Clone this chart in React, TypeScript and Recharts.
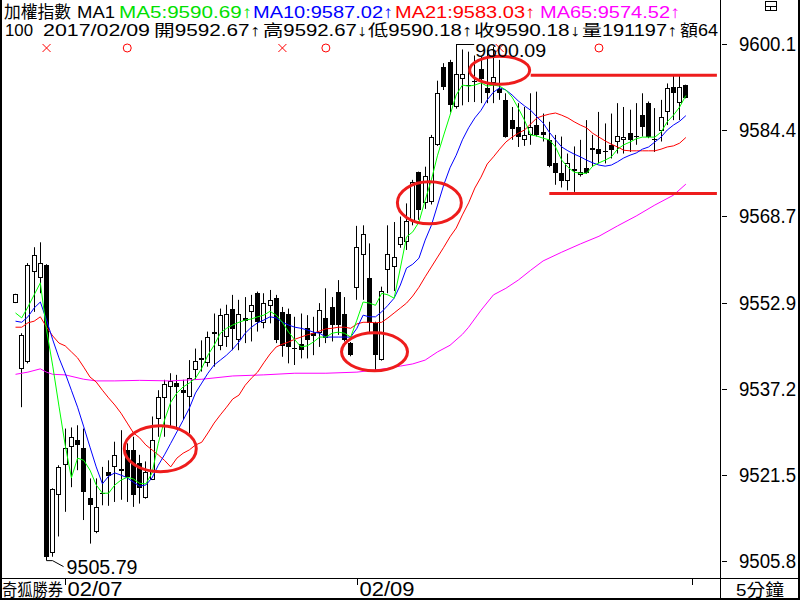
import React from 'react';
import { ComposedChart, Bar, Line, XAxis, YAxis, ReferenceLine, ReferenceDot } from 'recharts';

// 5-minute bars (open / high / low / close)
const opens = [
  9552.9, 9540.7, 9542.1, 9558.4, 9557.4, 9559.7, 9507.1, 9517.8, 9523.2, 9526.6,
  9527.9, 9526.3, 9517.2, 9511.1, 9518.2, 9521.9, 9522.8, 9522.5, 9526.0, 9526.0,
  9523.7, 9517.3, 9520.5, 9531.6, 9535.4, 9537.5, 9538.3, 9536.9, 9535.6, 9540.6,
  9542.7, 9541.8, 9547.1, 9544.9, 9546.7, 9551.8, 9546.1, 9550.1, 9551.2, 9554.6,
  9549.2, 9552.3, 9553.7, 9551.1, 9550.9, 9544.6, 9545.3, 9548.2, 9547.3, 9547.3,
  9550.0, 9552.1, 9554.9, 9550.9, 9545.6, 9555.5, 9561.6, 9557.3, 9549.1, 9542.5,
  9558.8, 9559.4, 9563.4, 9564.0, 9567.7, 9576.7, 9571.0, 9571.3, 9581.7, 9595.9,
  9596.9, 9588.6, 9593.8, 9592.7, 9593.3, 9595.5, 9592.0, 9592.9, 9591.8, 9589.9,
  9586.2, 9584.9, 9582.6, 9583.5, 9585.3, 9584.1, 9582.6, 9578.3, 9576.5, 9575.0,
  9577.2, 9576.1, 9577.4, 9581.2, 9581.0, 9580.5, 9581.6, 9582.3, 9582.6, 9583.8,
  9583.1, 9587.1, 9589.3, 9582.7, 9584.3, 9587.7, 9592.2, 9589.3, 9592.67,
];
const highs = [
  9554.5, 9547.3, 9560.1, 9563.0, 9563.9, 9559.9, 9519.0, 9523.2, 9529.9, 9530.1,
  9530.5, 9529.9, 9520.8, 9520.8, 9522.9, 9524.1, 9527.5, 9529.6, 9527.2, 9528.4,
  9525.1, 9523.9, 9532.1, 9536.9, 9538.8, 9540.0, 9539.7, 9538.8, 9542.4, 9544.5,
  9546.0, 9547.6, 9550.9, 9551.8, 9552.5, 9554.3, 9553.4, 9553.9, 9554.3, 9554.9,
  9554.6, 9555.2, 9554.3, 9552.1, 9551.8, 9550.3, 9550.9, 9550.6, 9550.3, 9552.8,
  9555.5, 9553.9, 9557.0, 9553.9, 9545.7, 9566.9, 9567.0, 9563.7, 9549.4, 9555.8,
  9567.0, 9567.6, 9568.6, 9571.0, 9575.3, 9576.8, 9577.7, 9583.5, 9593.4, 9596.6,
  9597.2, 9600.09, 9599.1, 9598.7, 9598.0, 9597.8, 9599.0, 9599.6, 9597.2, 9591.1,
  9588.6, 9589.3, 9588.6, 9591.1, 9591.4, 9587.4, 9585.9, 9583.5, 9583.2, 9580.1,
  9581.4, 9582.6, 9586.2, 9583.5, 9587.7, 9585.6, 9587.4, 9589.3, 9588.6, 9588.1,
  9589.3, 9591.1, 9589.6, 9588.4, 9589.9, 9592.9, 9594.4, 9594.4, 9592.67,
];
const lows = [
  9552.8, 9533.8, 9541.8, 9551.2, 9554.6, 9505.79, 9506.5, 9510.2, 9514.7, 9519.2,
  9522.3, 9513.2, 9508.9, 9510.8, 9515.9, 9515.8, 9516.5, 9516.9, 9516.5, 9515.6,
  9516.2, 9517.1, 9520.5, 9528.4, 9528.4, 9530.2, 9530.2, 9531.5, 9529.0, 9538.8,
  9540.3, 9541.2, 9541.2, 9544.2, 9544.8, 9544.2, 9544.2, 9545.5, 9545.8, 9547.6,
  9548.2, 9549.1, 9545.5, 9543.0, 9541.8, 9541.5, 9542.7, 9542.7, 9543.3, 9544.8,
  9545.5, 9545.8, 9547.0, 9545.8, 9543.1, 9553.4, 9553.4, 9547.5, 9540.3, 9542.3,
  9554.6, 9555.0, 9562.9, 9562.5, 9567.0, 9568.0, 9570.0, 9570.8, 9581.5, 9591.7,
  9587.6, 9588.3, 9588.9, 9589.5, 9589.5, 9589.3, 9589.3, 9589.3, 9589.9, 9583.0,
  9582.6, 9581.3, 9581.5, 9581.7, 9583.2, 9582.3, 9577.6, 9574.4, 9573.9, 9573.4,
  9573.1, 9575.9, 9576.4, 9577.7, 9578.3, 9578.3, 9579.2, 9580.1, 9580.1, 9580.4,
  9581.7, 9583.2, 9582.9, 9580.4, 9582.3, 9585.3, 9586.2, 9586.2, 9590.18,
];
const closes = [
  9554.4, 9547.0, 9559.7, 9561.6, 9560.2, 9506.5, 9518.8, 9522.9, 9526.3, 9528.3,
  9526.9, 9518.4, 9516.0, 9515.6, 9518.0, 9521.3, 9525.1, 9522.2, 9521.1, 9517.8,
  9519.0, 9522.0, 9527.9, 9535.6, 9538.0, 9538.6, 9537.4, 9536.3, 9539.2, 9542.2,
  9542.5, 9546.6, 9547.6, 9550.6, 9550.8, 9548.0, 9550.9, 9549.6, 9552.5, 9549.4,
  9552.9, 9553.4, 9546.1, 9544.9, 9544.8, 9544.4, 9544.2, 9546.1, 9546.8, 9551.5,
  9546.4, 9548.8, 9548.8, 9546.1, 9543.3, 9563.1, 9565.5, 9549.1, 9543.3, 9555.1,
  9561.8, 9561.3, 9564.9, 9567.7, 9574.9, 9569.8, 9576.0, 9583.2, 9591.1, 9592.3,
  9588.9, 9594.7, 9594.7, 9592.5, 9593.1, 9593.7, 9591.1, 9594.0, 9591.1, 9583.2,
  9584.5, 9583.2, 9583.5, 9585.0, 9583.5, 9583.5, 9577.8, 9576.5, 9575.0, 9578.3,
  9577.0, 9576.7, 9576.5, 9580.7, 9580.1, 9580.3, 9580.7, 9583.3, 9583.1, 9582.6,
  9583.3, 9585.0, 9583.2, 9582.5, 9586.7, 9592.0, 9591.1, 9592.3, 9590.18,
];

// moving averages as drawn
const ma5 = [
  9551.0, 9550.1, 9552.1, 9554.3, 9556.5, 9547.9, 9541.3, 9534.0, 9526.9, 9520.9,
  9524.5, 9524.1, 9522.3, 9519.6, 9518.1, 9518.1, 9519.6, 9520.5, 9521.0, 9520.7,
  9519.9, 9519.8, 9521.8, 9527.2, 9531.4, 9534.7, 9536.4, 9537.5, 9538.2, 9539.1,
  9540.9, 9543.3, 9545.1, 9547.3, 9548.2, 9548.8, 9549.3, 9549.7, 9549.9, 9550.3,
  9550.6, 9551.3, 9550.6, 9549.3, 9547.5, 9546.1, 9544.8, 9545.0, 9545.7, 9546.6,
  9546.6, 9547.3, 9547.5, 9547.3, 9546.6, 9549.7, 9553.0, 9552.8, 9552.4, 9554.6,
  9554.3, 9553.7, 9559.2, 9564.9, 9565.8, 9567.6, 9571.6, 9575.3, 9579.8, 9583.5,
  9587.1, 9590.8, 9592.6, 9592.4, 9592.6, 9593.0, 9592.4, 9592.6, 9592.4, 9591.7,
  9590.4, 9588.4, 9586.2, 9583.5, 9583.3, 9582.9, 9582.6, 9581.3, 9578.9, 9577.6,
  9576.7, 9576.5, 9576.5, 9577.8, 9578.4, 9578.9, 9579.5, 9580.9, 9581.7, 9582.2,
  9582.8, 9583.1, 9583.1, 9583.1, 9584.0, 9585.9, 9587.1, 9588.6, 9590.69,
];
const ma10 = [
  9549.5, 9549.3, 9550.3, 9551.9, 9553.0, 9549.7, 9546.1, 9542.8, 9540.0, 9536.9,
  9533.8, 9530.2, 9526.5, 9522.9, 9519.8, 9521.2, 9521.8, 9521.4, 9520.9, 9520.1,
  9519.4, 9519.6, 9520.9, 9523.2, 9525.1, 9527.2, 9529.3, 9531.4, 9533.6, 9536.4,
  9538.2, 9540.0, 9541.5, 9542.4, 9543.3, 9544.4, 9545.7, 9547.3, 9548.4, 9549.2,
  9549.7, 9550.3, 9550.1, 9549.3, 9548.8, 9548.4, 9548.2, 9547.9, 9547.5, 9547.3,
  9546.6, 9546.6, 9546.6, 9546.6, 9546.6, 9548.2, 9550.6, 9550.3, 9550.3, 9551.2,
  9552.4, 9553.7, 9556.1, 9559.2, 9559.9, 9561.0, 9564.3, 9567.0, 9570.7, 9574.4,
  9577.5, 9579.8, 9582.6, 9584.8, 9586.6, 9588.0, 9589.9, 9591.3, 9592.1, 9591.7,
  9590.8, 9589.7, 9588.8, 9588.0, 9586.8, 9585.7, 9584.0, 9582.6, 9581.3, 9580.6,
  9580.0, 9579.5, 9578.9, 9578.4, 9578.0, 9577.8, 9578.0, 9578.6, 9579.3, 9579.8,
  9580.2, 9580.9, 9581.3, 9582.2, 9583.1, 9584.4, 9585.3, 9586.0, 9587.02,
];
const ma21 = [
  9548.4, 9548.4, 9549.2, 9549.5, 9550.3, 9548.4, 9546.8, 9545.5, 9545.0, 9543.9,
  9542.8, 9541.1, 9539.3, 9538.4, 9536.9, 9535.5, 9534.2, 9532.7, 9530.9, 9529.1,
  9528.2, 9526.9, 9526.0, 9525.1, 9524.1, 9522.9, 9524.5, 9525.4, 9526.0, 9526.9,
  9527.4, 9529.1, 9530.9, 9532.4, 9533.8, 9535.3, 9536.0, 9537.8, 9539.1, 9540.2,
  9541.9, 9543.5, 9544.8, 9545.3, 9545.7, 9546.2, 9546.6, 9547.0, 9547.3, 9547.7,
  9548.1, 9548.2, 9548.4, 9548.4, 9548.2, 9549.0, 9549.3, 9549.3, 9549.2, 9549.3,
  9550.1, 9551.0, 9551.9, 9552.8, 9554.1, 9555.7, 9557.6, 9559.4, 9561.2, 9563.0,
  9564.9, 9566.5, 9568.9, 9571.1, 9573.8, 9575.8, 9578.2, 9579.5, 9580.9, 9582.2,
  9583.1, 9583.8, 9584.4, 9585.5, 9586.6, 9587.0, 9587.3, 9587.5, 9587.1, 9586.6,
  9585.9, 9585.3, 9584.8, 9583.8, 9583.1, 9582.4, 9581.8, 9581.3, 9580.7, 9580.6,
  9580.6, 9580.6, 9580.6, 9580.6, 9580.9, 9581.3, 9581.5, 9582.0, 9583.03,
];
// MA65 read at selected bars: [bar, value]
const ma65Read: [number, number][] = [
  [0, 9539.8], [2, 9540.2], [4, 9540.8], [5, 9540.2], [6, 9539.8], [8, 9539.7],
  [11, 9538.9], [13, 9538.6], [16, 9538.6], [20, 9538.7], [25, 9538.6], [30, 9538.9],
  [35, 9539.5], [40, 9539.7], [45, 9540.0], [50, 9540.0], [55, 9540.2], [58, 9540.6],
  [60, 9540.9], [62, 9541.3], [64, 9541.7], [66, 9542.4], [68, 9543.9], [70, 9545.1],
  [72, 9547.1], [73, 9548.4], [75, 9551.5], [77, 9554.3], [79, 9555.5], [81, 9557.0],
  [83, 9558.8], [85, 9560.5], [88, 9562.1], [91, 9563.6], [94, 9565.0], [97, 9566.9],
  [100, 9568.7], [103, 9570.7], [106, 9572.5], [108, 9574.52],
];

const yTicks = [9600.1, 9584.4, 9568.7, 9552.9, 9537.2, 9521.5, 9505.8];
const dayTicks: [number, string][] = [[8, '02/07'], [55, '02/09'], [109, '']];
const signals: [number, string][] = [[5, 'x'], [18, 'o'], [43, 'x'], [50, 'o'], [78, 'x'], [94, 'o']];
const rings = [
  { bar: 23, value: 9526.2, rx: 36, ry: 23, dx: 2 },
  { bar: 58, value: 9543.9, rx: 33, ry: 19, dx: -1 },
  { bar: 67, value: 9571.1, rx: 32, ry: 21, dx: -2 },
  { bar: 78, value: 9595.3, rx: 30, ry: 14, dx: 0 },
];
const levels = [
  { from: 83, value: 9594.4 },
  { from: 86, value: 9572.8 },
];

const PAD_L = 2;
const SLOTS = 116;
const FONT = "'Liberation Sans', 'Noto Sans CJK TC', sans-serif";
const key = (bar: number) => String(bar + PAD_L);

const ma65 = new Map(ma65Read);
const rows = Array.from({ length: SLOTS }, (_, s) => {
  const i = s - PAD_L;
  if (i < 0 || i >= opens.length) return { k: String(s) };
  return {
    k: String(s),
    range: [lows[i], highs[i]],
    o: opens[i], h: highs[i], l: lows[i], c: closes[i],
    ma5: ma5[i], ma10: ma10[i], ma21: ma21[i],
    ma65: ma65.has(i) ? ma65.get(i) : null,
  };
});
const dayLabel: Record<string, string> = {};
dayTicks.forEach(([b, t]) => { dayLabel[key(b)] = t; });

function Candle(props: any) {
  const { x, y, width, height, payload } = props;
  if (!payload || payload.o == null) return null;
  const mid = Math.floor(x + width / 2) + 0.5;
  const top = Math.min(y, y + height);
  const bottom = Math.max(y, y + height);
  const span = payload.h - payload.l;
  const toY = (v: number) => (span > 0 ? top + ((payload.h - v) / span) * (bottom - top) : top);
  const yo = toY(payload.o);
  const yc = toY(payload.c);
  const bTop = Math.round(Math.min(yo, yc));
  const bBot = Math.round(Math.max(yo, yc));
  if (bBot - bTop < 2) {
    return (
      <g>
        <line x1={mid} x2={mid} y1={top} y2={bottom} stroke="#000" />
        <line x1={mid - 2.5} x2={mid + 2.5} y1={bTop + 0.5} y2={bTop + 0.5} stroke="#000" />
      </g>
    );
  }
  if (payload.c > payload.o) {
    return (
      <g>
        <line x1={mid} x2={mid} y1={top} y2={bTop} stroke="#000" />
        <line x1={mid} x2={mid} y1={bBot} y2={bottom} stroke="#000" />
        <rect x={mid - 2} y={bTop + 0.5} width={4} height={bBot - bTop - 1} fill="#fff" stroke="#000" />
      </g>
    );
  }
  return (
    <g>
      <line x1={mid} x2={mid} y1={top} y2={bottom} stroke="#000" />
      <rect x={mid - 2.5} y={bTop} width={5} height={bBot - bTop} fill="#000" />
    </g>
  );
}

const YTick = (p: any) => {
  const yy = Math.round(p.y) + 0.5;
  return (
    <g>
      <line x1={722} x2={727} y1={yy} y2={yy} stroke="#000" />
      <text x={739} y={p.y + 7} fontSize={20} fontFamily={FONT} fill="#000" textLength={57} lengthAdjust="spacingAndGlyphs">
        {Number(p.payload.value).toFixed(1)}
      </text>
    </g>
  );
};

const DayTick = (p: any) => {
  const label = dayLabel[p.payload.value];
  const xx = Math.round(p.x) + 0.5;
  return (
    <g>
      <line x1={xx} x2={xx} y1={579} y2={585} stroke="#000" />
      {label ? (
        <text x={xx + 2} y={596} fontSize={20} fontFamily={FONT} fill="#000" textLength={55} lengthAdjust="spacingAndGlyphs">
          {label}
        </text>
      ) : null}
    </g>
  );
};

const header1 = [
  { t: '加權指數', x: 4, w: 67, c: '#000' },
  { t: 'MA1', x: 77, w: 38, c: '#000' },
  { t: 'MA5:9590.69↑', x: 119, w: 133, c: '#00e000' },
  { t: 'MA10:9587.02↑', x: 253, w: 140, c: '#0000ff' },
  { t: 'MA21:9583.03↑', x: 395, w: 140, c: '#ff0000' },
  { t: 'MA65:9574.52↑', x: 540, w: 140, c: '#ff00ff' },
];
const header2 = [
  { t: '100', x: 5, w: 28 },
  { t: '2017/02/09', x: 43, w: 107 },
  { t: '開9592.67↑', x: 154, w: 106 },
  { t: '高9592.67↓', x: 263, w: 104 },
  { t: '低9590.18↑', x: 368, w: 104 },
  { t: '收9590.18↓', x: 474, w: 106 },
  { t: '量191197↑', x: 582, w: 95 },
  { t: '額64', x: 680, w: 38 },
];

export default function App() {
  return (
    <div style={{ position: 'absolute', left: 0, top: 0, width: 800, height: 600, background: '#fff', overflow: 'hidden' }}>
      <ComposedChart width={800} height={600} data={rows} margin={{ top: 0, right: 0, bottom: 0, left: 0 }}>
        <XAxis dataKey="k" type="category" height={22} ticks={dayTicks.map(([b]) => key(b))} interval={0}
          tick={<DayTick />} tickLine={false} axisLine={false} />
        <YAxis orientation="right" type="number" width={80} domain={[9502.62, 9608.13]} allowDataOverflow
          ticks={yTicks} interval={0} tick={<YTick />} tickLine={false} axisLine={false} />
        <Bar dataKey="range" shape={<Candle />} isAnimationActive={false} />
        <Line type="linear" dataKey="ma65" stroke="#ff00ff" strokeWidth={1} dot={false} activeDot={false} connectNulls isAnimationActive={false} />
        <Line type="linear" dataKey="ma21" stroke="#ff0000" strokeWidth={1} dot={false} activeDot={false} isAnimationActive={false} />
        <Line type="linear" dataKey="ma10" stroke="#0000ff" strokeWidth={1} dot={false} activeDot={false} isAnimationActive={false} />
        <Line type="linear" dataKey="ma5" stroke="#00ff00" strokeWidth={1} dot={false} activeDot={false} isAnimationActive={false} />
        {levels.map((lv, n) => (
          <ReferenceLine key={`lv${n}`} segment={[{ x: key(lv.from), y: lv.value }, { x: String(SLOTS - 1), y: lv.value }]}
            stroke="#ee1c1c" strokeWidth={3} />
        ))}
        {rings.map((r, n) => (
          <ReferenceDot key={`rg${n}`} x={key(r.bar)} y={r.value} r={1}
            shape={(p: any) => <ellipse cx={p.cx + r.dx} cy={p.cy} rx={r.rx} ry={r.ry} fill="none" stroke="#ee1c1c" strokeWidth={3} />} />
        ))}
        {signals.map(([b, t], n) => (
          <ReferenceDot key={`sg${n}`} x={key(b)} y={9599.37} r={1}
            shape={(p: any) => t === 'x' ? (
              <g stroke="#ff0000" strokeWidth={1}>
                <line x1={p.cx - 4} y1={p.cy - 4} x2={p.cx + 4} y2={p.cy + 4} />
                <line x1={p.cx - 4} y1={p.cy + 4} x2={p.cx + 4} y2={p.cy - 4} />
              </g>
            ) : (
              <circle cx={p.cx} cy={p.cy} r={4} fill="none" stroke="#ff0000" strokeWidth={1} />
            )} />
        ))}
        <ReferenceDot x={key(71)} y={9600.09} r={1}
          shape={(p: any) => (
            <g>
              <line x1={p.cx} y1={Math.round(p.cy) + 0.5} x2={p.cx + 18} y2={Math.round(p.cy) + 0.5} stroke="#000" />
              <text x={p.cx + 19} y={p.cy + 13} fontSize={18} fontFamily={FONT} fill="#000" textLength={71} lengthAdjust="spacingAndGlyphs">9600.09</text>
            </g>
          )} />
        <ReferenceDot x={key(5)} y={9505.79} r={1}
          shape={(p: any) => (
            <g>
              <polyline points={`${p.cx},${p.cy} ${p.cx + 6},${p.cy} ${p.cx + 17},${p.cy + 6}`} fill="none" stroke="#000" />
              <text x={p.cx + 20} y={p.cy + 13} fontSize={20} fontFamily={FONT} fill="#000" textLength={71} lengthAdjust="spacingAndGlyphs">9505.79</text>
            </g>
          )} />
      </ComposedChart>
      <svg width={800} height={600} style={{ position: 'absolute', left: 0, top: 0, pointerEvents: 'none' }}>
        {header1.map((h, n) => (
          <text key={`h1${n}`} x={h.x} y={18} fontSize={17} fontFamily={FONT} fill={h.c} textLength={h.w} lengthAdjust="spacingAndGlyphs">{h.t}</text>
        ))}
        {header2.map((h, n) => (
          <text key={`h2${n}`} x={h.x} y={36} fontSize={16} fontFamily={FONT} fill="#000" textLength={h.w} lengthAdjust="spacingAndGlyphs">{h.t}</text>
        ))}
        <rect x={765.5} y={1.5} width={11} height={9} fill="none" stroke="#000" />
        <line x1={765.5} x2={776.5} y1={6.5} y2={6.5} stroke="#000" />
        <line x1={770.5} x2={770.5} y1={6.5} y2={10.5} stroke="#000" />
        <line x1={720.5} x2={720.5} y1={0} y2={600} stroke="#000" />
        <line x1={0} x2={800} y1={578.5} y2={578.5} stroke="#000" />
        <rect x={0} y={0} width={2} height={600} fill="#000" />
        <rect x={798} y={0} width={2} height={600} fill="#000" />
        <rect x={0} y={598} width={800} height={2} fill="#000" />
        <text x={2} y={596} fontSize={17} fontFamily={FONT} fill="#000" textLength={61} lengthAdjust="spacingAndGlyphs">奇狐勝券</text>
        <text x={736} y={596} fontSize={17} fontFamily={FONT} fill="#000" textLength={48} lengthAdjust="spacingAndGlyphs">5分鐘</text>
      </svg>
    </div>
  );
}
